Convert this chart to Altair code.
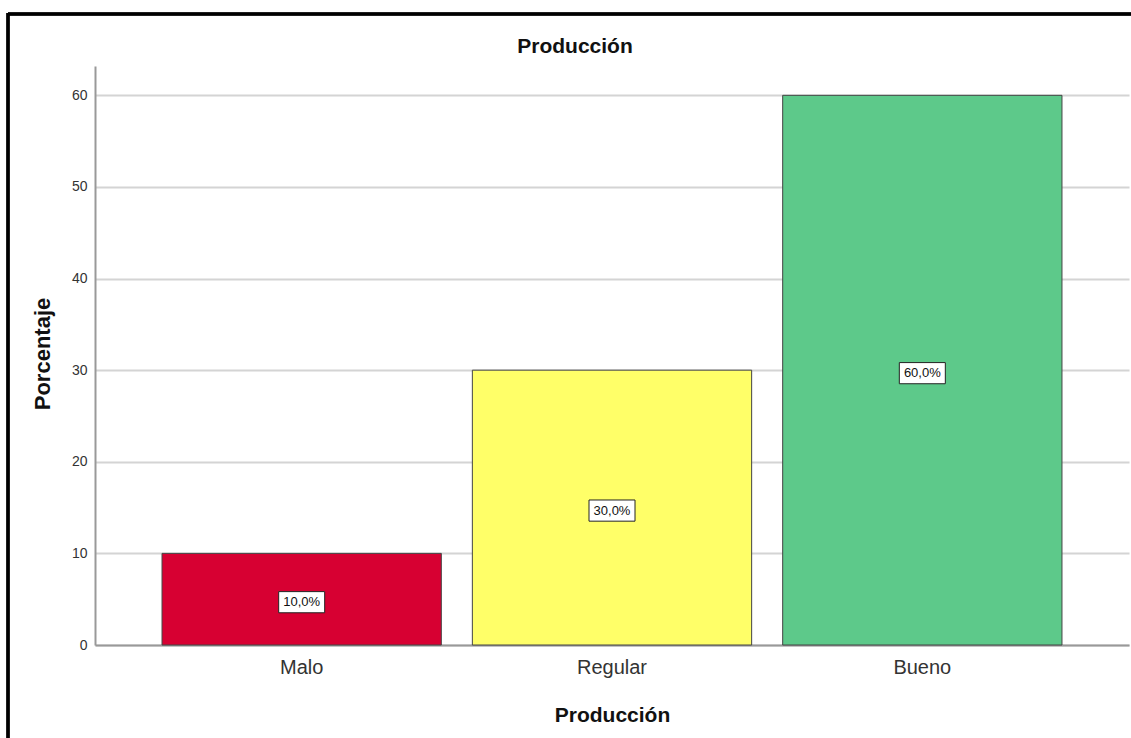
import altair as alt
import pandas as pd

categories = ["Malo", "Regular", "Bueno"]
values = [10.0, 30.0, 60.0]
colors = ["#d70032", "#ffff68", "#5dc98a"]
y_ticks = [0, 10, 20, 30, 40, 50, 60]
chart_title = "Producción"

df = pd.DataFrame({"cat": categories, "val": values})
df["label"] = [f"{v:.1f}%".replace(".", ",") for v in values]

FONT = "Liberation Sans"
W, H = 1034, 579

x = alt.X("cat:N", sort=categories,
          scale=alt.Scale(paddingInner=0.1, paddingOuter=0.216),
          axis=alt.Axis(title="Producción", labelAngle=0, labelFontSize=20,
                        labelColor="#333333", labelFont=FONT, labelPadding=12,
                        tickSize=0, domainColor="#999999", domainWidth=2,
                        titleFont=FONT, titleFontSize=21, titleFontWeight="bold",
                        titleColor="#111111", titleY=70, titleBaseline="middle"))
y = alt.Y("val:Q", scale=alt.Scale(domain=[0, 63.2], nice=False, zero=True),
          axis=alt.Axis(title="Porcentaje", values=y_ticks, tickSize=0, labelPadding=8,
                        labelFontSize=14, labelColor="#333333", labelFont=FONT,
                        domainColor="#999999", domainWidth=2,
                        grid=True, gridColor="#d4d4d4", gridWidth=2,
                        titleFont=FONT, titleFontSize=22, titleFontWeight="bold",
                        titleColor="#111111", titleX=-53, titleY=H / 2 - 2,
                        titleAngle=270, titleAlign="center", titleBaseline="middle"))

bars = alt.Chart(df).mark_bar(stroke="#444444", strokeWidth=1).encode(
    x=x, y=y,
    color=alt.Color("cat:N", scale=alt.Scale(domain=categories, range=colors), legend=None),
)

base = alt.Chart(df).transform_calculate(mid="datum.val / 2")

boxes = base.mark_point(
    shape="M-1,-0.46L1,-0.46L1,0.46L-1,0.46Z", size=46 * 46,
    filled=True, fill="white", stroke="#222222", strokeWidth=1, opacity=1,
).encode(x=alt.X("cat:N", sort=categories), y=alt.Y("mid:Q"), yOffset=alt.value(3))

texts = base.mark_text(font=FONT, fontSize=13, color="#111111", baseline="middle").encode(
    x=alt.X("cat:N", sort=categories), y=alt.Y("mid:Q"), text="label:N",
    yOffset=alt.value(3),
)

title_df = pd.DataFrame({"t": [chart_title]})
title_mark = alt.Chart(title_df).mark_text(
    font=FONT, fontSize=21, fontWeight="bold", color="#111111",
    align="center", baseline="middle",
).encode(x=alt.value(480), y=alt.value(-19), text="t:N")

frame_top = alt.Chart(df).mark_rule(color="black", strokeWidth=3).encode(
    x=alt.value(-87), x2=alt.value(W + 10), y=alt.value(-52)
)
frame_left = alt.Chart(df).mark_rule(color="black", strokeWidth=3).encode(
    x=alt.value(-87), y=alt.value(-53), y2=alt.value(H + 100)
)

chart = alt.layer(bars, boxes, texts, title_mark, frame_top, frame_left).properties(
    width=W, height=H,
    background="white",
    autosize=alt.AutoSizeParams(type="none"),
    padding={"left": 95, "top": 66, "right": 2, "bottom": 93},
).configure_view(strokeWidth=0, stroke="transparent")

chart.save("out.html", embed_options={"renderer": "svg", "actions": False})
